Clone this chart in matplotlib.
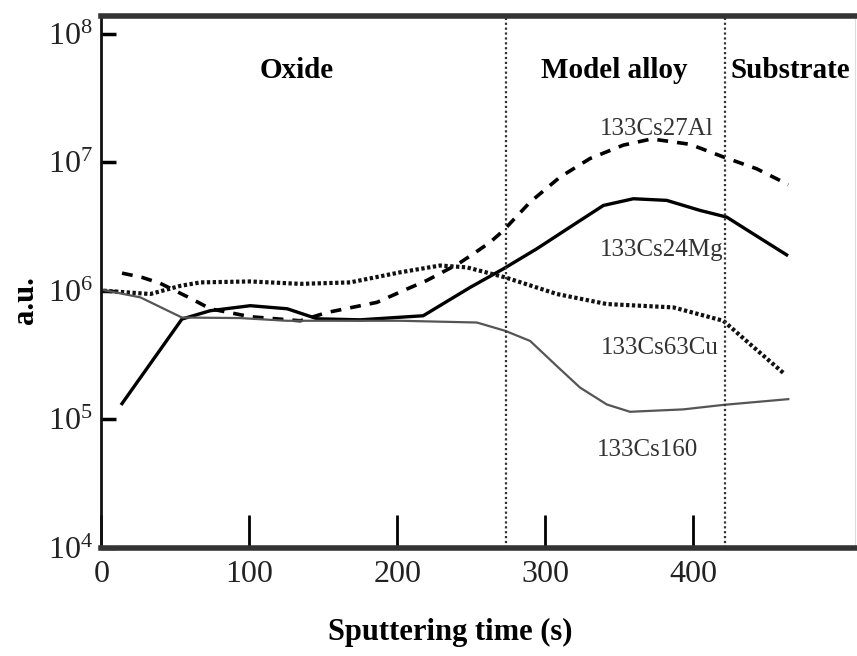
import matplotlib
matplotlib.use("Agg")
import matplotlib.pyplot as plt

# --- data (sputtering time in s, intensity in a.u.) ---
t_mg = [14, 54.5, 73.6, 100.7, 125.7, 146, 175, 217.6, 249.3, 271.8, 294.4, 316.9, 339.4,
        359.7, 382.2, 404.7, 422.8, 440.7, 463.3]
cs24mg = [1.32e5, 6.01e5, 6.98e5, 7.64e5, 7.23e5, 6.04e5, 5.93e5, 6.38e5, 1.06e6, 1.48e6,
          2.12e6, 3.13e6, 4.61e6, 5.2e6, 5.05e6, 4.22e6, 3.74e6, 2.77e6, 1.9e6]

t_al = [14, 27.5, 39.9, 61.3, 73.6, 100.7, 134.5, 152.5, 186.3, 206.6, 220, 241.4, 251.6,
        262.8, 271.8, 289.9, 310.1, 330.4, 352.9, 372, 398, 420.5, 443, 464.4]
cs27al = [1.37e6, 1.27e6, 1.14e6, 8.61e5, 7.23e5, 6.27e5, 5.83e5, 6.76e5, 8.11e5, 1.03e6,
          1.20e6, 1.62e6, 1.94e6, 2.38e6, 2.94e6, 4.9e6, 7.67e6, 1.07e7, 1.36e7, 1.52e7,
          1.38e7, 1.10e7, 8.9e6, 6.7e6]

t_cu = [1.4, 33.1, 53.4, 66.9, 100.7, 134.5, 168.2, 202, 229, 247, 273, 308, 341.7, 386.7,
        420.5, 438.5, 462.2]
cs63cu = [1.0e6, 9.42e5, 1.09e6, 1.16e6, 1.18e6, 1.13e6, 1.16e6, 1.39e6, 1.57e6, 1.52e6,
          1.27e6, 9.42e5, 7.87e5, 7.41e5, 5.83e5, 3.84e5, 2.23e5]

t_o = [0, 26.4, 54.5, 93.9, 125.5, 202, 253.9, 273, 289.9, 307.9, 323.6, 341.7, 357.4,
       393.4, 420.5, 464.4]
cs16o = [1.02e6, 8.87e5, 6.18e5, 6.12e5, 5.83e5, 5.83e5, 5.65e5, 4.87e5, 4.06e5, 2.59e5,
         1.76e5, 1.30e5, 1.14e5, 1.19e5, 1.29e5, 1.43e5]

boundaries = [273.6, 421.6]
regions = ["Oxide", "Model alloy", "Substrate"]
region_x = [132, 346.6, 465.5]
series_labels = ["133Cs27Al", "133Cs24Mg", "133Cs63Cu", "133Cs160"]
label_x = [375.3, 378.7, 377.7, 369.3]
label_y = [1.63e7, 1.87e6, 3.2e5, 5.14e4]

plt.rcParams["font.family"] = ["Liberation Serif", "DejaVu Serif"]
plt.rcParams["mathtext.fontset"] = "custom"
plt.rcParams["mathtext.rm"] = "Liberation Serif"

fig = plt.figure(figsize=(8.57, 6.56), dpi=100)
ax = fig.add_axes([101.3 / 857, 108.5 / 656, 753.7 / 857, 532 / 656])

line_kw = dict(solid_joinstyle="round", dash_joinstyle="round")
ax.plot(t_al, cs27al, color="black", lw=2.6, linestyle=(0, (3, 2.5)), **line_kw)
ax.plot(t_mg, cs24mg, color="black", lw=2.4, **line_kw)
ax.plot(t_cu, cs63cu, color="#111111", lw=3.0, linestyle=(0, (0.8, 0.6)), **line_kw)
ax.plot(t_o, cs16o, color="#555555", lw=1.6, **line_kw)

for b in boundaries:
    ax.axvline(b, color="#333333", lw=1.6, linestyle=(0, (1, 1.2)))

ax.set_yscale("log")
ax.set_xlim(0, 509.5)
ax.set_ylim(1e4, 1.39e8)
ax.set_xticks([0, 100, 200, 300, 400])
ax.set_yticks([1e4, 1e5, 1e6, 1e7, 1e8])
ax.minorticks_off()

ax.tick_params(axis="y", direction="in", length=11, width=2.5, labelsize=23,
               pad=6, labelcolor="#222222")
ax.tick_params(axis="x", direction="in", length=24, width=2, labelsize=23,
               pad=9, labelcolor="#222222")

for s in ["top", "bottom"]:
    ax.spines[s].set_linewidth(4)
    ax.spines[s].set_color("#333333")
ax.spines["left"].set_linewidth(2)
ax.spines["left"].set_color("#111111")
ax.spines["right"].set_linewidth(0.8)
ax.spines["right"].set_color("#dddddd")

for name, x in zip(regions, region_x):
    ax.text(x, 4.5e7, name, ha="center", va="baseline", fontsize=21,
            fontweight="bold")

for name, x, y in zip(series_labels, label_x, label_y):
    ax.text(x, y, name, ha="center", va="baseline", fontsize=18, color="#333333")

ax.set_xlabel("Sputtering time (s)", fontsize=22, fontweight="bold")
ax.xaxis.set_label_coords(0.463, -0.132)
ax.set_ylabel("a.u.", fontsize=22, fontweight="bold", va="center")
ax.yaxis.set_label_coords(-0.101, 0.466)

fig.savefig("out.png", dpi=100)
